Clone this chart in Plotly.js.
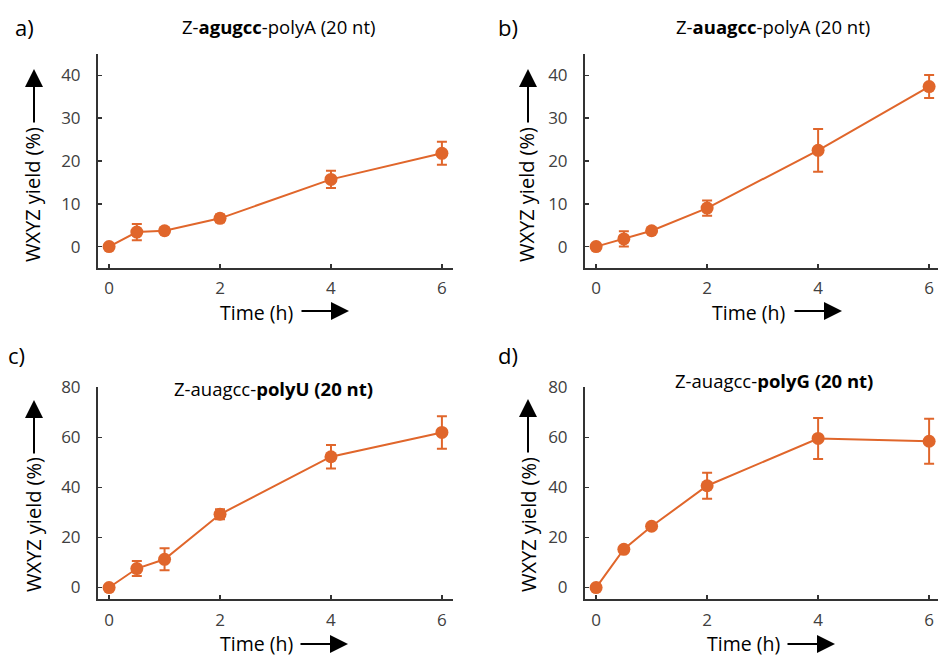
<!DOCTYPE html>
<html>
<head>
<meta charset="utf-8">
<script src="https://cdn.plot.ly/plotly-3.0.1.min.js"></script>
<style>html,body{margin:0;padding:0;background:#fff;}#chart{width:938px;height:657px;}</style>
</head>
<body>
<div id="chart"></div>
<script>
// ---- data ----
const timeH = [0, 0.5, 1, 2, 4, 6];
const yieldA = [0, 3.4, 3.7, 6.6, 15.7, 21.8];
const errA   = [0.3, 1.9, 0.5, 0.9, 2.0, 2.7];
const yieldB = [0, 1.8, 3.7, 9.0, 22.5, 37.4];
const errB   = [0.3, 1.8, 0.5, 1.8, 5.0, 2.7];
const yieldC = [0, 7.6, 11.3, 29.3, 52.3, 62.0];
const errC   = [0.5, 3.0, 4.4, 2.0, 4.7, 6.5];
const yieldD = [0, 15.3, 24.5, 40.7, 59.6, 58.5];
const errD   = [0.5, 1.0, 1.0, 5.2, 8.2, 9.0];
const xTicks = [0, 2, 4, 6];
const yTicksTop = [0, 10, 20, 30, 40];
const yTicksBottom = [0, 20, 40, 60, 80];
const panelLabels = ['a)', 'b)', 'c)', 'd)'];
const panelTitles = [
  'Z-<b>agugcc</b>-polyA (20 nt)',
  'Z-<b>auagcc</b>-polyA (20 nt)',
  'Z-auagcc-<b>polyU (20 nt)</b>',
  'Z-auagcc-<b>polyG (20 nt)</b>'
];
const yTitle = 'WXYZ yield (%)';
const xTitle = 'Time (h)';

// ---- style ----
const W = 938, H = 657;
const ORANGE = '#E0662B';
const FONT = 'Open Sans, Noto Sans, sans-serif';
const px = v => v / W;
const py = v => 1 - v / H;

function trace(y, err, i) {
  const s = i === 0 ? '' : String(i + 1);
  return {
    x: timeH, y: y, xaxis: 'x' + s, yaxis: 'y' + s,
    type: 'scatter', mode: 'lines+markers', cliponaxis: false,
    line: {color: ORANGE, width: 2},
    marker: {color: ORANGE, size: 13},
    error_y: {type: 'data', array: err, visible: true, color: ORANGE, thickness: 2, width: 5},
    showlegend: false, hoverinfo: 'x+y'
  };
}
const data = [
  trace(yieldA, errA, 0), trace(yieldB, errB, 1),
  trace(yieldC, errC, 2), trace(yieldD, errD, 3)
];

// pixel geometry of each panel: [left, right, top, bottom]
const geo = [
  [98, 453, 54, 268],
  [585, 938, 54, 268],
  [98, 453, 386.7, 599.3],
  [585, 938, 386.7, 599.3]
];
const xRanges = [[-0.2, 6.2], [-0.2, 6.16], [-0.2, 6.2], [-0.2, 6.16]];
const yRanges = [[-5, 45], [-5, 45], [-4.7, 80.3], [-4.7, 80.3]];
const yTickSets = [yTicksTop, yTicksTop, yTicksBottom, yTicksBottom];

const layout = {
  width: W, height: H,
  margin: {l: 0, r: 0, t: 0, b: 0},
  paper_bgcolor: '#fff', plot_bgcolor: '#fff',
  font: {family: FONT, color: '#000'},
  showlegend: false,
  annotations: [],
};

geo.forEach((g, i) => {
  const s = i === 0 ? '' : String(i + 1);
  layout['xaxis' + s] = {
    domain: [px(g[0]), px(g[1])], anchor: 'y' + s,
    range: xRanges[i], tickvals: xTicks, ticks: 'inside', ticklen: 4, tickwidth: 1.5,
    tickcolor: '#333', showline: true, linecolor: '#333', linewidth: 2,
    showgrid: false, zeroline: false, ticklabelstandoff: 4,
    tickfont: {size: 17, color: '#404040', family: FONT}
  };
  layout['yaxis' + s] = {
    domain: [py(g[3]), py(g[2])], anchor: 'x' + s,
    range: yRanges[i], tickvals: yTickSets[i], ticks: 'inside', ticklen: 4, tickwidth: 1.5,
    tickcolor: '#333', showline: true, linecolor: '#333', linewidth: 2,
    showgrid: false, zeroline: false, ticklabelstandoff: 12,
    tickfont: {size: 17, color: '#404040', family: FONT}
  };
});

// panel labels & titles
const labelPos = [[13, 27], [496, 27], [6, 355], [496, 355]];
const titlePos = [[278, 27], [773, 27], [273, 388], [774, 380]];
const yTitlePos = [[33, 195], [527, 195], [33, 525], [528, 525]];
const xTitlePos = [[256, 312], [748, 312], [256, 643], [743, 643]];
const annFont = s => ({size: s, color: '#000', family: FONT});
panelLabels.forEach((t, i) => {
  layout.annotations.push({text: t, xref: 'paper', yref: 'paper', x: px(labelPos[i][0]), y: py(labelPos[i][1]),
    xanchor: 'left', yanchor: 'middle', showarrow: false, font: annFont(22)});
  layout.annotations.push({text: panelTitles[i], xref: 'paper', yref: 'paper', x: px(titlePos[i][0]), y: py(titlePos[i][1]),
    xanchor: 'center', yanchor: 'middle', showarrow: false, font: annFont(18.5)});
  layout.annotations.push({text: yTitle, xref: 'paper', yref: 'paper', x: px(yTitlePos[i][0]), y: py(yTitlePos[i][1]),
    xanchor: 'center', yanchor: 'middle', textangle: -90, showarrow: false, font: annFont(20)});
  layout.annotations.push({text: xTitle, xref: 'paper', yref: 'paper', x: px(xTitlePos[i][0]), y: py(xTitlePos[i][1]),
    xanchor: 'center', yanchor: 'middle', borderpad: 0, showarrow: false, font: annFont(19.5)});
});

// arrows next to axis titles: [headX, headY, ax, ay]
const arrows = [
  [34, 69, 0, 55], [528, 69, 0, 55], [34, 400, 0, 55], [528, 399, 0, 55],
  [349, 311, -49, 0], [842, 311, -49, 0], [348, 644, -49, 0], [835, 644, -49, 0]
];
arrows.forEach(a => {
  layout.annotations.push({text: '', xref: 'paper', yref: 'paper', x: px(a[0]), y: py(a[1]),
    ax: a[2], ay: a[3], showarrow: true, arrowhead: 2, arrowsize: 1.8, arrowwidth: 2, arrowcolor: '#000'});
});

Plotly.newPlot('chart', data, layout, {staticPlot: true});
</script>
</body>
</html>
